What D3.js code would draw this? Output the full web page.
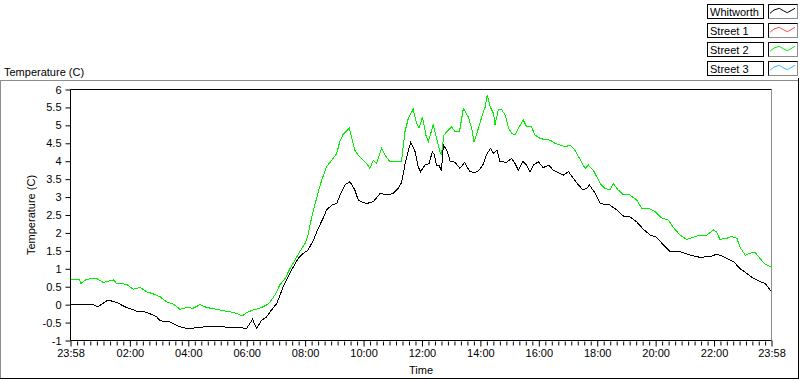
<!DOCTYPE html>
<html>
<head>
<meta charset="utf-8">
<script src="https://cdn.jsdelivr.net/npm/d3@7"></script>
<style>
  body { margin: 0; background: #fff; }
  svg text { font-family: "Liberation Sans", Arial, sans-serif; font-size: 11px; fill: #000; }
</style>
</head>
<body>
<script>
// minutes after 00:00, -2 = 23:58 of the day before
var whitworthTimes = [-2, 45, 54, 75, 93, 113, 134, 154, 175, 182, 202, 223, 243, 257, 278, 305, 332, 360, 372, 380,
  391, 401, 408, 422, 435, 445, 456, 466, 476, 486, 497, 507, 517, 524, 535, 545, 552, 562, 572, 576,
  582, 589, 596, 606, 620, 634, 648, 661, 671, 678, 685, 692, 697, 706, 712, 717, 726, 735, 741, 745,
  750, 755, 760, 764, 771, 778, 788, 798, 808, 812, 819, 829, 836, 845, 852, 861, 867, 874, 880, 894,
  904, 911, 918, 927, 935, 942, 949, 959, 969, 980, 990, 1000, 1010, 1021, 1031, 1041, 1051, 1059, 1064, 1076,
  1086, 1106, 1120, 1134, 1147, 1161, 1175, 1189, 1202, 1216, 1230, 1250, 1271, 1291, 1312, 1326, 1339, 1360, 1373, 1387,
  1401, 1415, 1425, 1435, 1438];
var whitworthTemp = [0, 0, -0.06, 0.13, 0.06, -0.08, -0.18, -0.21, -0.34, -0.45, -0.48, -0.62, -0.68, -0.63, -0.62, -0.62, -0.63, -0.66, -0.41, -0.66,
  -0.43, -0.34, -0.2, 0.04, 0.5, 0.78, 1.06, 1.29, 1.43, 1.52, 1.8, 2.13, 2.41, 2.64, 2.78, 2.82, 3.06, 3.34, 3.43, 3.34,
  3.2, 2.92, 2.87, 2.82, 2.87, 3.1, 3.06, 3.1, 3.24, 3.4, 3.9, 4.3, 4.53, 4.26, 3.85, 3.71, 3.89, 3.94, 4.26, 4.2,
  3.89, 3.89, 3.73, 4.45, 4.31, 4.0, 3.97, 3.8, 3.97, 3.85, 3.71, 3.68, 3.73, 3.89, 4.17, 4.36, 4.22, 4.31, 3.99, 3.97,
  4.08, 3.94, 3.75, 4.0, 3.89, 3.69, 3.89, 3.99, 3.82, 3.89, 3.75, 3.68, 3.61, 3.71, 3.52, 3.34, 3.2, 3.25, 3.34, 3.1,
  2.82, 2.78, 2.64, 2.47, 2.45, 2.31, 2.1, 1.94, 1.88, 1.66, 1.48, 1.48, 1.38, 1.32, 1.34, 1.41, 1.34, 1.2, 1.01, 0.87,
  0.73, 0.64, 0.59, 0.41, 0.4];

var street2Times = [-2, 16, 19, 31, 52, 65, 86, 93, 113, 127, 141, 154, 168, 182, 195, 209, 223, 237, 250, 264,
  278, 298, 312, 326, 339, 350, 360, 373, 387, 401, 408, 418, 428, 439, 449, 459, 469, 480, 486, 493,
  500, 507, 514, 524, 535, 545, 551, 558, 571, 576, 582, 589, 599, 606, 613, 620, 627, 637, 644, 654,
  668, 678, 685, 692, 702, 708, 714, 721, 728, 733, 743, 750, 757, 760, 765, 771, 781, 788, 797, 805,
  815, 822, 827, 836, 843, 850, 854, 860, 867, 870, 877, 884, 891, 898, 904, 911, 918, 928, 935, 945,
  952, 962, 973, 983, 993, 1004, 1014, 1024, 1034, 1045, 1055, 1062, 1072, 1086, 1096, 1106, 1113, 1123, 1134, 1147,
  1161, 1171, 1185, 1199, 1213, 1226, 1236, 1250, 1264, 1277, 1291, 1305, 1319, 1325, 1332, 1346, 1356, 1367, 1373, 1384,
  1394, 1404, 1414, 1425, 1435, 1438];
var street2Temp = [0.71, 0.71, 0.59, 0.71, 0.73, 0.62, 0.69, 0.59, 0.57, 0.43, 0.48, 0.36, 0.3, 0.22, 0.08, 0.02, -0.13, -0.08, -0.1, 0,
  -0.08, -0.13, -0.17, -0.2, -0.24, -0.32, -0.22, -0.15, -0.1, -0.01, 0.08, 0.27, 0.55, 0.73, 1.01, 1.24, 1.48, 1.71, 1.94, 2.41,
  2.78, 3.15, 3.47, 3.85, 4.03, 4.22, 4.54, 4.75, 4.92, 4.64, 4.31, 4.17, 4.03, 3.94, 3.8, 4.03, 3.94, 4.36, 4.17, 3.99,
  3.99, 4.0, 4.82, 5.2, 5.45, 5.1, 4.92, 5.24, 4.73, 4.54, 5.01, 4.64, 4.26, 4.2, 4.73, 4.82, 4.96, 4.82, 4.82, 5.47,
  5.24, 4.92, 4.54, 4.92, 5.24, 5.52, 5.85, 5.52, 5.33, 5.01, 5.45, 5.43, 5.29, 4.92, 4.78, 4.73, 4.92, 5.15, 4.96, 4.96,
  4.73, 4.64, 4.6, 4.59, 4.5, 4.45, 4.4, 4.45, 4.31, 4.05, 3.8, 3.89, 3.75, 3.38, 3.24, 3.2, 3.38, 3.2, 3.06, 3.06,
  2.92, 2.69, 2.69, 2.59, 2.41, 2.36, 2.16, 1.94, 1.82, 1.88, 1.94, 1.94, 2.08, 2.03, 1.82, 1.85, 1.9, 1.85, 1.61, 1.38,
  1.43, 1.47, 1.29, 1.13, 1.06, 1.05];

var legendNames = ["Whitworth", "Street 1", "Street 2", "Street 3"];
var legendColors = ["#000000", "#ff4a4a", "#00ee00", "#33b8ff"];
var xTickValues = [-2, 120, 240, 360, 480, 600, 720, 840, 960, 1080, 1200, 1320, 1438];
var yTickValues = [-1, -0.5, 0, 0.5, 1, 1.5, 2, 2.5, 3, 3.5, 4, 4.5, 5, 5.5, 6];

var svg = d3.select("body").append("svg").attr("width", 800).attr("height", 380),
    margin = {top: 89.5, right: 28.5, bottom: 39.5, left: 70.5},
    width = 800 - margin.left - margin.right,
    height = 380 - margin.top - margin.bottom;

// outer panel
svg.append("line").attr("x1", 0).attr("x2", 798).attr("y1", 80.5).attr("y2", 80.5).attr("stroke", "#8c8c8c");
svg.append("line").attr("x1", 0.5).attr("x2", 0.5).attr("y1", 80).attr("y2", 379).attr("stroke", "#8c8c8c");
svg.append("line").attr("x1", 0).attr("x2", 799).attr("y1", 378.5).attr("y2", 378.5).attr("stroke", "#000");
svg.append("line").attr("x1", 798.5).attr("x2", 798.5).attr("y1", 78).attr("y2", 379).attr("stroke", "#000");

svg.append("text").attr("x", 4).attr("y", 76).text("Temperature (C)");

var x = d3.scaleLinear().domain([-2, 1438]).range([0, width]);
var y = d3.scaleLinear().domain([-1, 6]).range([height, 0]);

var g = svg.append("g").attr("transform", "translate(" + margin.left + "," + margin.top + ")");

function fmtTime(m) {
    var t = (m + 1440) % 1440;
    return d3.format("02")(Math.floor(t / 60)) + ":" + d3.format("02")(t % 60);
}

// minor ticks: 9 parts between each pair of major ticks
var minorTicks = [];
for (var i = 0; i < xTickValues.length - 1; i++) {
    var a = xTickValues[i], b = xTickValues[i + 1];
    for (var k = 1; k < 9; k++) minorTicks.push(a + (b - a) * k / 9);
}

g.append("g")
    .attr("transform", "translate(0," + (height + 1) + ")")
    .call(d3.axisBottom(x).tickValues(minorTicks).tickSize(4).tickFormat(""))
    .call(function (s) { s.select(".domain").remove(); });

g.append("g")
    .attr("class", "x axis")
    .attr("transform", "translate(0," + height + ")")
    .call(d3.axisBottom(x).tickValues(xTickValues).tickSize(6).tickPadding(3).tickFormat(fmtTime))
    .call(function (s) { s.select(".domain").remove(); })
    .attr("font-family", null).attr("font-size", null);

g.append("g")
    .attr("class", "y axis")
    .call(d3.axisLeft(y).tickValues(yTickValues).tickSize(5).tickPadding(4).tickFormat(function (d) { return String(d); }))
    .call(function (s) { s.select(".domain").remove(); })
    .attr("font-family", null).attr("font-size", null);

// plot frame
g.append("line").attr("x1", width).attr("x2", width).attr("y1", 0).attr("y2", height).attr("stroke", "#8c8c8c");
g.append("line").attr("x1", 0).attr("x2", width).attr("y1", 0).attr("y2", 0).attr("stroke", "#000");
g.append("line").attr("x1", 0).attr("x2", 0).attr("y1", 0).attr("y2", height).attr("stroke", "#000");
g.append("line").attr("x1", 0).attr("x2", width).attr("y1", height).attr("y2", height).attr("stroke", "#000");

var line = d3.line()
    .x(function (d) { return x(d[0]); })
    .y(function (d) { return y(d[1]); });

g.append("path")
    .datum(d3.zip(street2Times, street2Temp))
    .attr("fill", "none").attr("stroke", legendColors[2]).attr("stroke-width", 1)
    .attr("shape-rendering", "crispEdges")
    .attr("d", line);

g.append("path")
    .datum(d3.zip(whitworthTimes, whitworthTemp))
    .attr("fill", "none").attr("stroke", legendColors[0]).attr("stroke-width", 1)
    .attr("shape-rendering", "crispEdges")
    .attr("d", line);

g.append("text").attr("x", width / 2).attr("y", height + 33).attr("text-anchor", "middle").text("Time");
g.append("text")
    .attr("transform", "translate(" + (31 - margin.left) + "," + (height / 2) + ") rotate(-90)")
    .attr("text-anchor", "middle").attr("dy", "0.35em")
    .text("Temperature (C)");

// legend
var legend = svg.selectAll(".leg")
    .data(legendNames)
    .enter().append("g")
    .attr("class", "leg")
    .attr("transform", function (d, i) { return "translate(707," + (4 + i * 19) + ")"; });

legend.append("rect")
    .attr("x", 0.5).attr("y", 0.5).attr("width", 56).attr("height", 14)
    .attr("fill", "#fff").attr("stroke", "#000");

legend.append("text").attr("x", 3).attr("y", 11.5).text(function (d) { return d; });

legend.append("rect")
    .attr("x", 61.5).attr("y", 0.5).attr("width", 29).attr("height", 14)
    .attr("fill", "#fff").attr("stroke", "#8c8c8c");
legend.append("path")
    .attr("d", "M61.5,14.5V0.5H90.5")
    .attr("fill", "none").attr("stroke", "#000");
legend.append("path")
    .attr("d", "M63,9.3L67,6L72.3,4.3L76.3,6.7L80.3,8.7L88,4.3")
    .attr("fill", "none")
    .attr("stroke", function (d, i) { return legendColors[i]; });
</script>
</body>
</html>
